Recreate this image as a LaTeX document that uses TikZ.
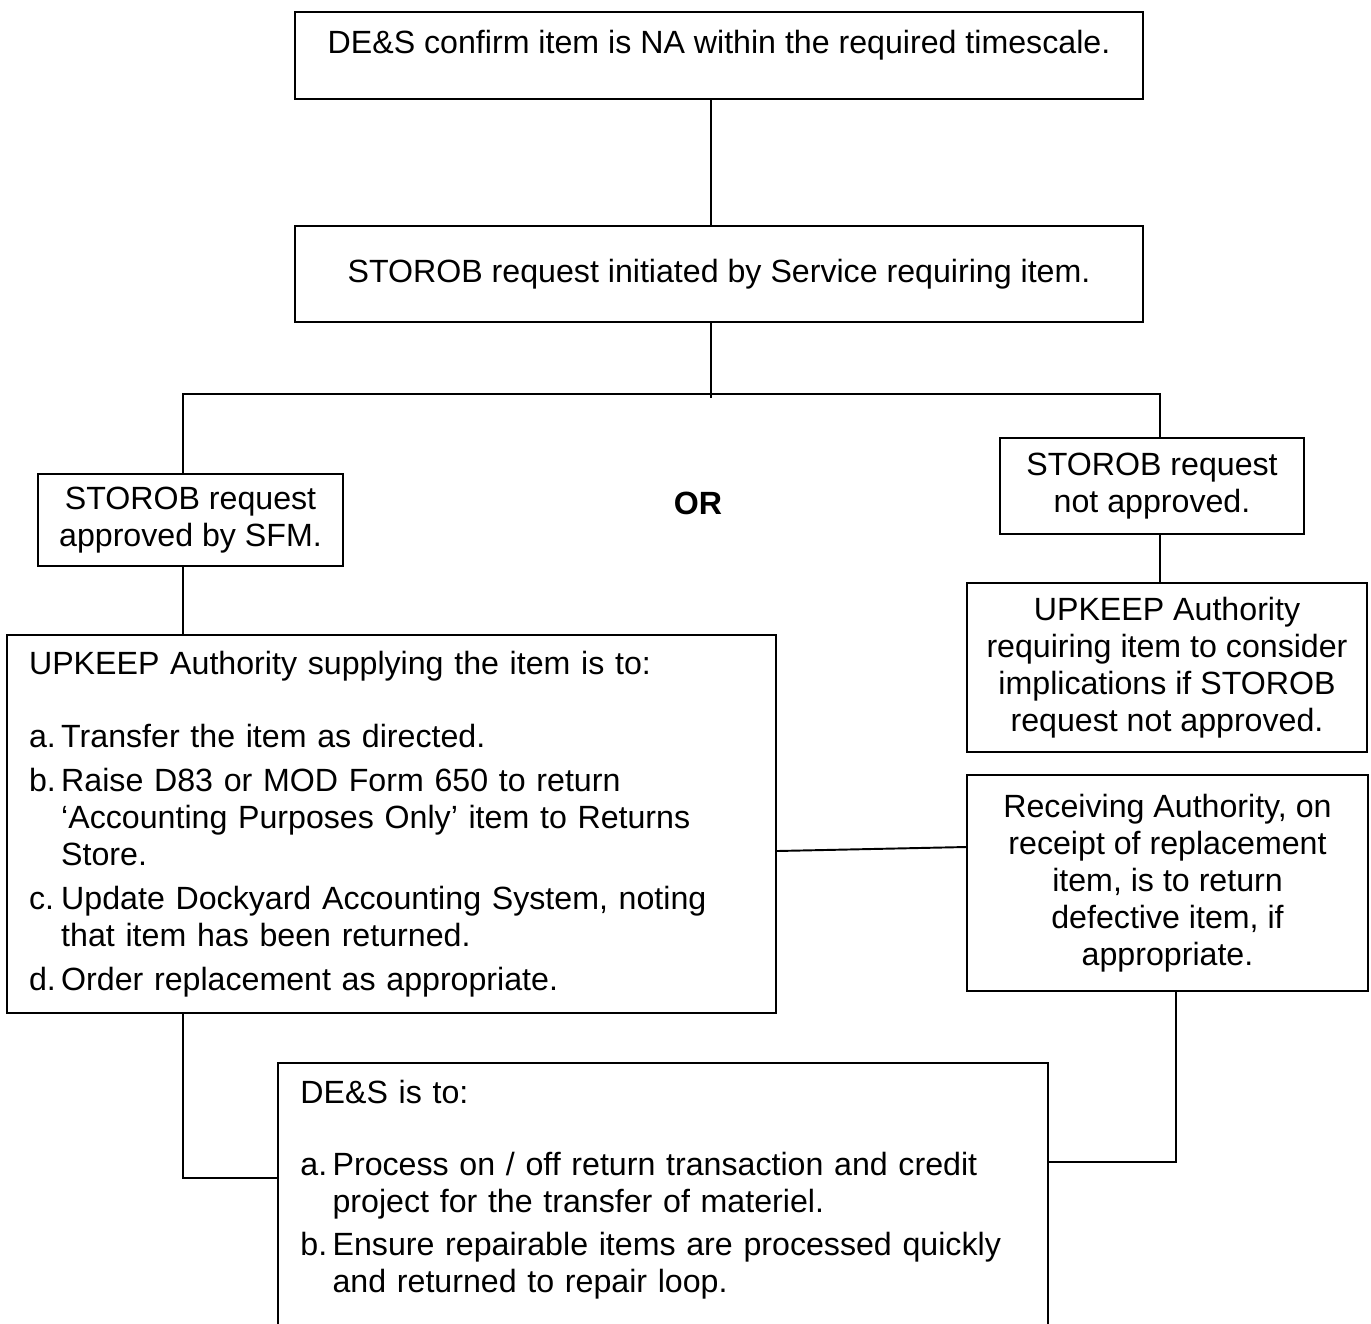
\documentclass[tikz,border=0pt]{standalone}
\usepackage{fontspec}
\setmainfont{Liberation Sans}

\newcommand{\stepitem}[2]{\par\hangindent=1em\hangafter=1\noindent\makebox[1em][l]{#1}#2\par}

\begin{document}
\begin{tikzpicture}[x=0.02cm,y=-0.02cm,line width=1.1pt,
		every node/.style={font=\fontsize{18.3}{21}\selectfont},
		flowbox/.style={draw,align=center,inner sep=2pt},
		listbox/.style={align=left,inner xsep=0.43cm,inner ysep=0pt,text width=14.5cm,
			execute at begin node={\setlength{\parskip}{4pt}}}]
			\useasboundingbox (0,0) rectangle (1371,1323);
			\clip (0,0) rectangle (1371,1323);

			\node[flowbox,minimum width=16.96cm,minimum height=1.74cm] (confirm) at (719,55.5) {DE\&S confirm item is NA within the required timescale.\\[-5.6pt] \mbox{}};
			\node[flowbox,minimum width=16.96cm,minimum height=1.92cm] (request) at (719,274) {STOROB request initiated by Service requiring item.};
			\node[flowbox,minimum width=6.1cm,minimum height=1.84cm] (approved) at (190.5,520) {STOROB request\\approved by SFM.};
			\node[flowbox,minimum width=6.08cm,minimum height=1.92cm] (refused) at (1152,486) {STOROB request\\not approved.};
			\node[flowbox,minimum width=8cm,minimum height=3.38cm] (consider) at (1167,667.5) {UPKEEP Authority\\requiring item to consider\\implications if STOROB\\request not approved.};
			\node[flowbox,minimum width=8.02cm,minimum height=4.32cm] (receiving) at (1167.5,883) {Receiving Authority, on\\receipt of replacement\\item, is to return\\defective item, if\\appropriate.};
			\node[font=\fontsize{18.3}{21}\selectfont\bfseries] (orlabel) at (698,503) {OR};

			\node[listbox,draw,minimum width=15.38cm,minimum height=7.56cm] (supply) at (391.5,824) {UPKEEP Authority supplying the item is to:\par\vspace{17pt}
				\stepitem{a.}{Transfer the item as directed.}
				\stepitem{b.}{Raise D83 or MOD Form 650 to return\newline ‘Accounting Purposes Only’ item to Returns\newline Store.}
				\stepitem{c.}{Update Dockyard Accounting System, noting\newline that item has been returned.}
				\stepitem{d.}{Order replacement as appropriate.}};

			\node[listbox,anchor=north west,inner ysep=9pt] (destask) at (278,1063) {DE\&S is to:\par\vspace{16pt}
				\stepitem{a.}{Process on / off return transaction and credit\newline project for the transfer of materiel.}
				\stepitem{b.}{Ensure repairable items are processed quickly\newline and returned to repair loop.}};

			\coordinate (split) at (711,398);
			\coordinate (jl) at (183,394);
			\coordinate (jr) at (1160,394);
			\coordinate (lowl) at (183,1178);
			\coordinate (lowr) at (1176,1162);
			\coordinate (linkl) at (0,851);
			\coordinate (linkr) at (0,847);
			\coordinate (floor) at (0,1340);

			\draw (destask.north west |- floor) -- (destask.north west) -- (destask.north east) -- (destask.north east |- floor);

			\draw (confirm.south -| split) -- (request.north -| split);
			\draw (request.south -| split) -- (split);
			\draw (approved.north -| jl) -- (jl) -- (jr) -- (refused.north -| jr);
			\draw (approved.south -| jl) -- (supply.north -| jl);
			\draw (refused.south -| jr) -- (consider.north -| jr);
			\draw (supply.east |- linkl) -- (receiving.west |- linkr);
			\draw (supply.south -| lowl) -- (lowl) -- (destask.west |- lowl);
			\draw (receiving.south -| lowr) -- (lowr) -- (destask.east |- lowr);
		\end{tikzpicture}
\end{document}
